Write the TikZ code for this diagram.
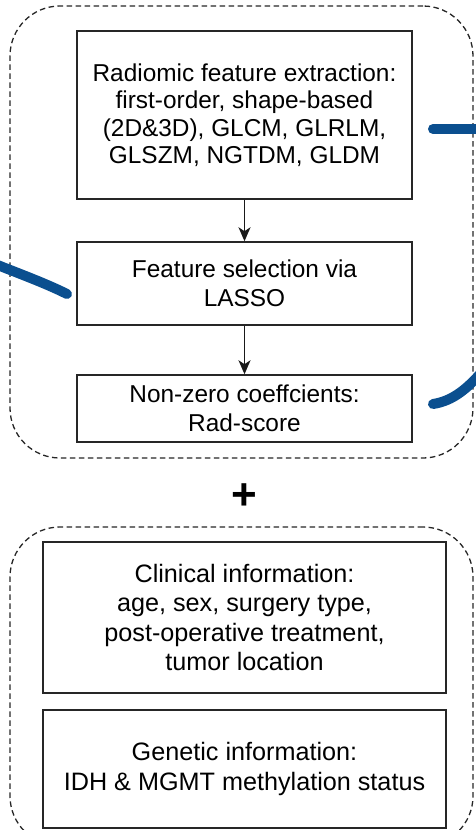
\documentclass[tikz,border=0pt]{standalone}
\usepackage{fontspec}
\setmainfont{Liberation Sans}
\usetikzlibrary{arrows.meta}
\definecolor{linkblue}{RGB}{11,79,143}
\begin{document}
\begin{tikzpicture}[x=1pt,y=-1pt,
  box/.style={draw=black!85, line width=1.5pt, align=center, inner sep=0pt,
    font=\fontsize{24.4}{27.5}\selectfont},
  bigbox/.style={box, font=\fontsize{25.2}{29.5}\selectfont},
  group/.style={draw=black!85, line width=1.3pt, dash pattern=on 5.5pt off 3.5pt,
    rounded corners=50pt, minimum width=463pt, inner sep=0pt},
  flow/.style={-{Stealth[length=14pt,width=12pt,inset=4pt]}, line width=1.5pt, draw=black!90},
  bluecurve/.style={draw=linkblue, line width=10pt, line cap=round}
]
\useasboundingbox (0,0) rectangle (475,830);

% dashed groups
\node[group, minimum height=452pt] (g1) at (241.5,232) {};
\node[group, minimum height=319pt] (g2) at (241.5,686.5) {};

% radiomics pipeline
\node[box, minimum width=335pt, minimum height=168pt] (rad) at (244.5,115)
  {Radiomic feature extraction:\\first-order, shape-based\\(2D\&3D), GLCM, GLRLM,\\GLSZM, NGTDM, GLDM};
\node[box, minimum width=335pt, minimum height=83pt, font=\fontsize{24.4}{28.5}\selectfont] (sel) at (244.5,283.5)
  {Feature selection via\\LASSO};
\node[box, minimum width=335pt, minimum height=67pt, font=\fontsize{24.4}{29}\selectfont] (coef) at (244.5,408.5)
  {Non-zero coeffcients:\\Rad-score};

\draw[flow] (rad) -- (sel);
\draw[flow] (sel) -- (coef);

% plus
\node[font=\fontsize{44}{44}\selectfont\bfseries, inner sep=0pt] (plus) at (244,497) {+};

% clinical / genetic
\node[bigbox, minimum width=403pt, minimum height=151pt] (clin) at (244.5,617.5)
  {Clinical information:\\age, sex, surgery type,\\post-operative treatment,\\tumor location};
\node[bigbox, minimum width=403pt, minimum height=118pt] (gen) at (244.5,769)
  {Genetic information:\\IDH \& MGMT methylation status};

% blue connectors (free ends)
\coordinate (b1s) at (433,129);
\coordinate (b1e) at (490,129);
\draw[bluecurve] (b1s) -- (b1e);

\coordinate (b2s) at (-10,262);
\coordinate (b2e) at (67,294);
\draw[bluecurve] (b2s) .. controls (20,274) and (45,283) .. (b2e);

\coordinate (b3s) at (433,404);
\coordinate (b3e) at (490,362);
\draw[bluecurve] (b3s) .. controls (452,401) and (468,390) .. (b3e);
\end{tikzpicture}
\end{document}
